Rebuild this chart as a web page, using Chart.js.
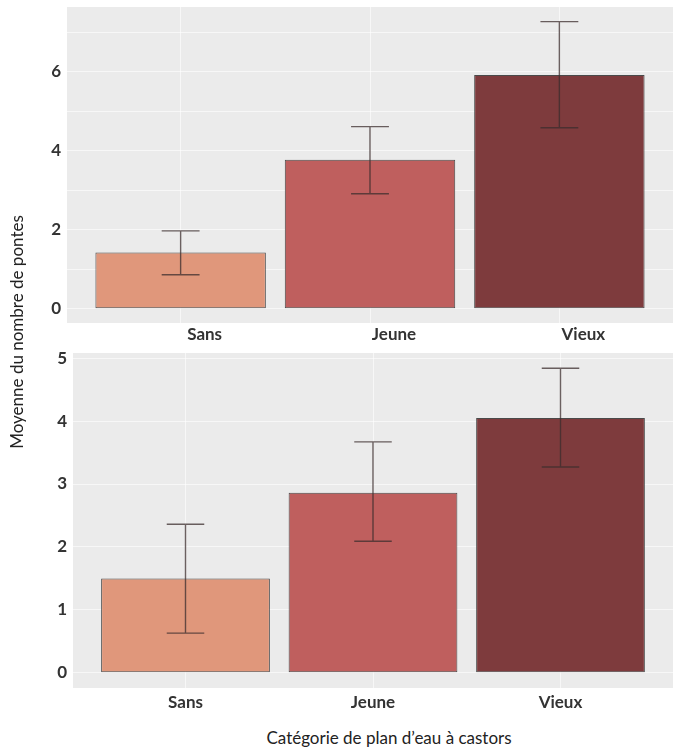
<!DOCTYPE html>
<html lang="fr">
<head>
<meta charset="UTF-8">
<title>Pontes</title>
<script src="https://cdn.jsdelivr.net/npm/chart.js@4.4.1/dist/chart.umd.min.js"></script>
<style>
  body{ margin:0; background:#fff; width:675px; height:751px; position:relative; overflow:hidden; font-family:Lato, sans-serif; }
  .box{ position:absolute; left:0; width:675px; }
  #top{ top:0; height:345px; }
  #bot{ top:345px; height:375px; }
  .ytitle{ position:absolute; left:-133px; top:322px; width:300px; height:20px; line-height:20px; text-align:center;
    transform:rotate(-90deg); font-size:17px; color:#222; }
  .xtitle{ position:absolute; left:189px; top:727px; width:400px; height:22px; line-height:22px; text-align:center;
    font-size:17px; color:#222; }
</style>
</head>
<body>
<div class="box" id="top"><canvas id="c1"></canvas></div>
<div class="box" id="bot"><canvas id="c2"></canvas></div>
<div class="ytitle">Moyenne du nombre de pontes</div>
<div class="xtitle">Catégorie de plan d’eau à castors</div>
<script>
// categories
var cats = ['Sans', 'Jeune', 'Vieux'];
var colors = ['#E0977B', '#BF5F5E', '#7E3B3D'];

// top panel
var topMean = [1.42, 3.77, 5.92];
var topLo = [0.86, 2.91, 4.58];
var topHi = [1.97, 4.61, 7.27];

// bottom panel
var botMean = [1.5, 2.86, 4.05];
var botLo = [0.63, 2.09, 3.27];
var botHi = [2.36, 3.67, 4.84];

Chart.defaults.font.family = 'Lato, sans-serif';
Chart.defaults.color = '#333';

// grey panel like ggplot
var panelBg = {
  id: 'panelBg',
  beforeDraw: function(chart){
    var a = chart.chartArea, ctx = chart.ctx;
    ctx.save();
    ctx.fillStyle = '#EBEBEB';
    ctx.fillRect(a.left, a.top, a.right - a.left, a.bottom - a.top);
    ctx.restore();
  }
};

// error bars, drawn through the chart scales
var errBars = {
  id: 'errBars',
  afterDatasetsDraw: function(chart, args, opts){
    var xs = chart.scales.x, ys = chart.scales.y, ctx = chart.ctx;
    ctx.save();
    ctx.strokeStyle = 'rgba(60,45,45,0.75)';
    ctx.lineWidth = 1.4;
    for (var i = 0; i < opts.lo.length; i++) {
      var x = xs.getPixelForValue(i);
      var xl = xs.getPixelForValue(i - opts.cap), xr = xs.getPixelForValue(i + opts.cap);
      var yl = ys.getPixelForValue(opts.lo[i]), yh = ys.getPixelForValue(opts.hi[i]);
      ctx.beginPath();
      ctx.moveTo(x, yl); ctx.lineTo(x, yh);
      ctx.moveTo(xl, yl); ctx.lineTo(xr, yl);
      ctx.moveTo(xl, yh); ctx.lineTo(xr, yh);
      ctx.stroke();
    }
    ctx.restore();
  }
};

function makeChart(id, mean, lo, hi, ymin, ymax, yw, xh, padTop, labOff, xpad, evenOnly){
  var pts = mean.map(function(v, i){ return {x: i, y: v}; });
  return new Chart(document.getElementById(id), {
    type: 'bar',
    data: {
      datasets: [{
        data: pts,
        backgroundColor: colors,
        borderColor: '#4a4a4a',
        borderWidth: 1,
        borderSkipped: false,
        barPercentage: 0.9,
        categoryPercentage: 1.0
      }]
    },
    options: {
      responsive: true,
      maintainAspectRatio: false,
      animation: false,
      layout: { padding: { top: padTop, right: 2, left: 0, bottom: 0 } },
      plugins: {
        legend: { display: false },
        tooltip: { enabled: false },
        errBars: { lo: lo, hi: hi, cap: 0.1 }
      },
      scales: {
        x: {
          type: 'linear',
          min: -0.6, max: 2.6,
          offset: false,
          border: { display: false },
          grid: { color: 'rgba(255,255,255,0.6)', drawTicks: false, offset: false },
          ticks: {
            stepSize: 1, includeBounds: false, padding: xpad, labelOffset: labOff,
            font: { size: 17, weight: 'bold' }, color: '#333',
            callback: function(v){ return cats[v] !== undefined ? cats[v] : ''; }
          },
          afterFit: function(s){ s.height = xh; s.paddingLeft = 0; s.paddingRight = 0; }
        },
        y: {
          min: ymin, max: ymax,
          border: { display: false },
          grid: { color: 'rgba(255,255,255,0.6)', drawTicks: false },
          ticks: {
            stepSize: 1, includeBounds: false, padding: 6,
            font: { size: 17, weight: 'bold' }, color: '#333',
            callback: function(v){
              if (evenOnly && v % 2 !== 0) return '';
              return v;
            }
          },
          afterFit: function(s){ s.width = yw; s.paddingTop = 0; s.paddingBottom = 0; }
        }
      }
    },
    plugins: [panelBg, errBars]
  });
}

makeChart('c1', topMean, topLo, topHi, -0.364, 7.64, 67, 22, 7, 24, 1, true);
makeChart('c2', botMean, botLo, botHi, -0.242, 5.082, 73, 32, 8, 0, 4, false);
</script>
</body>
</html>
